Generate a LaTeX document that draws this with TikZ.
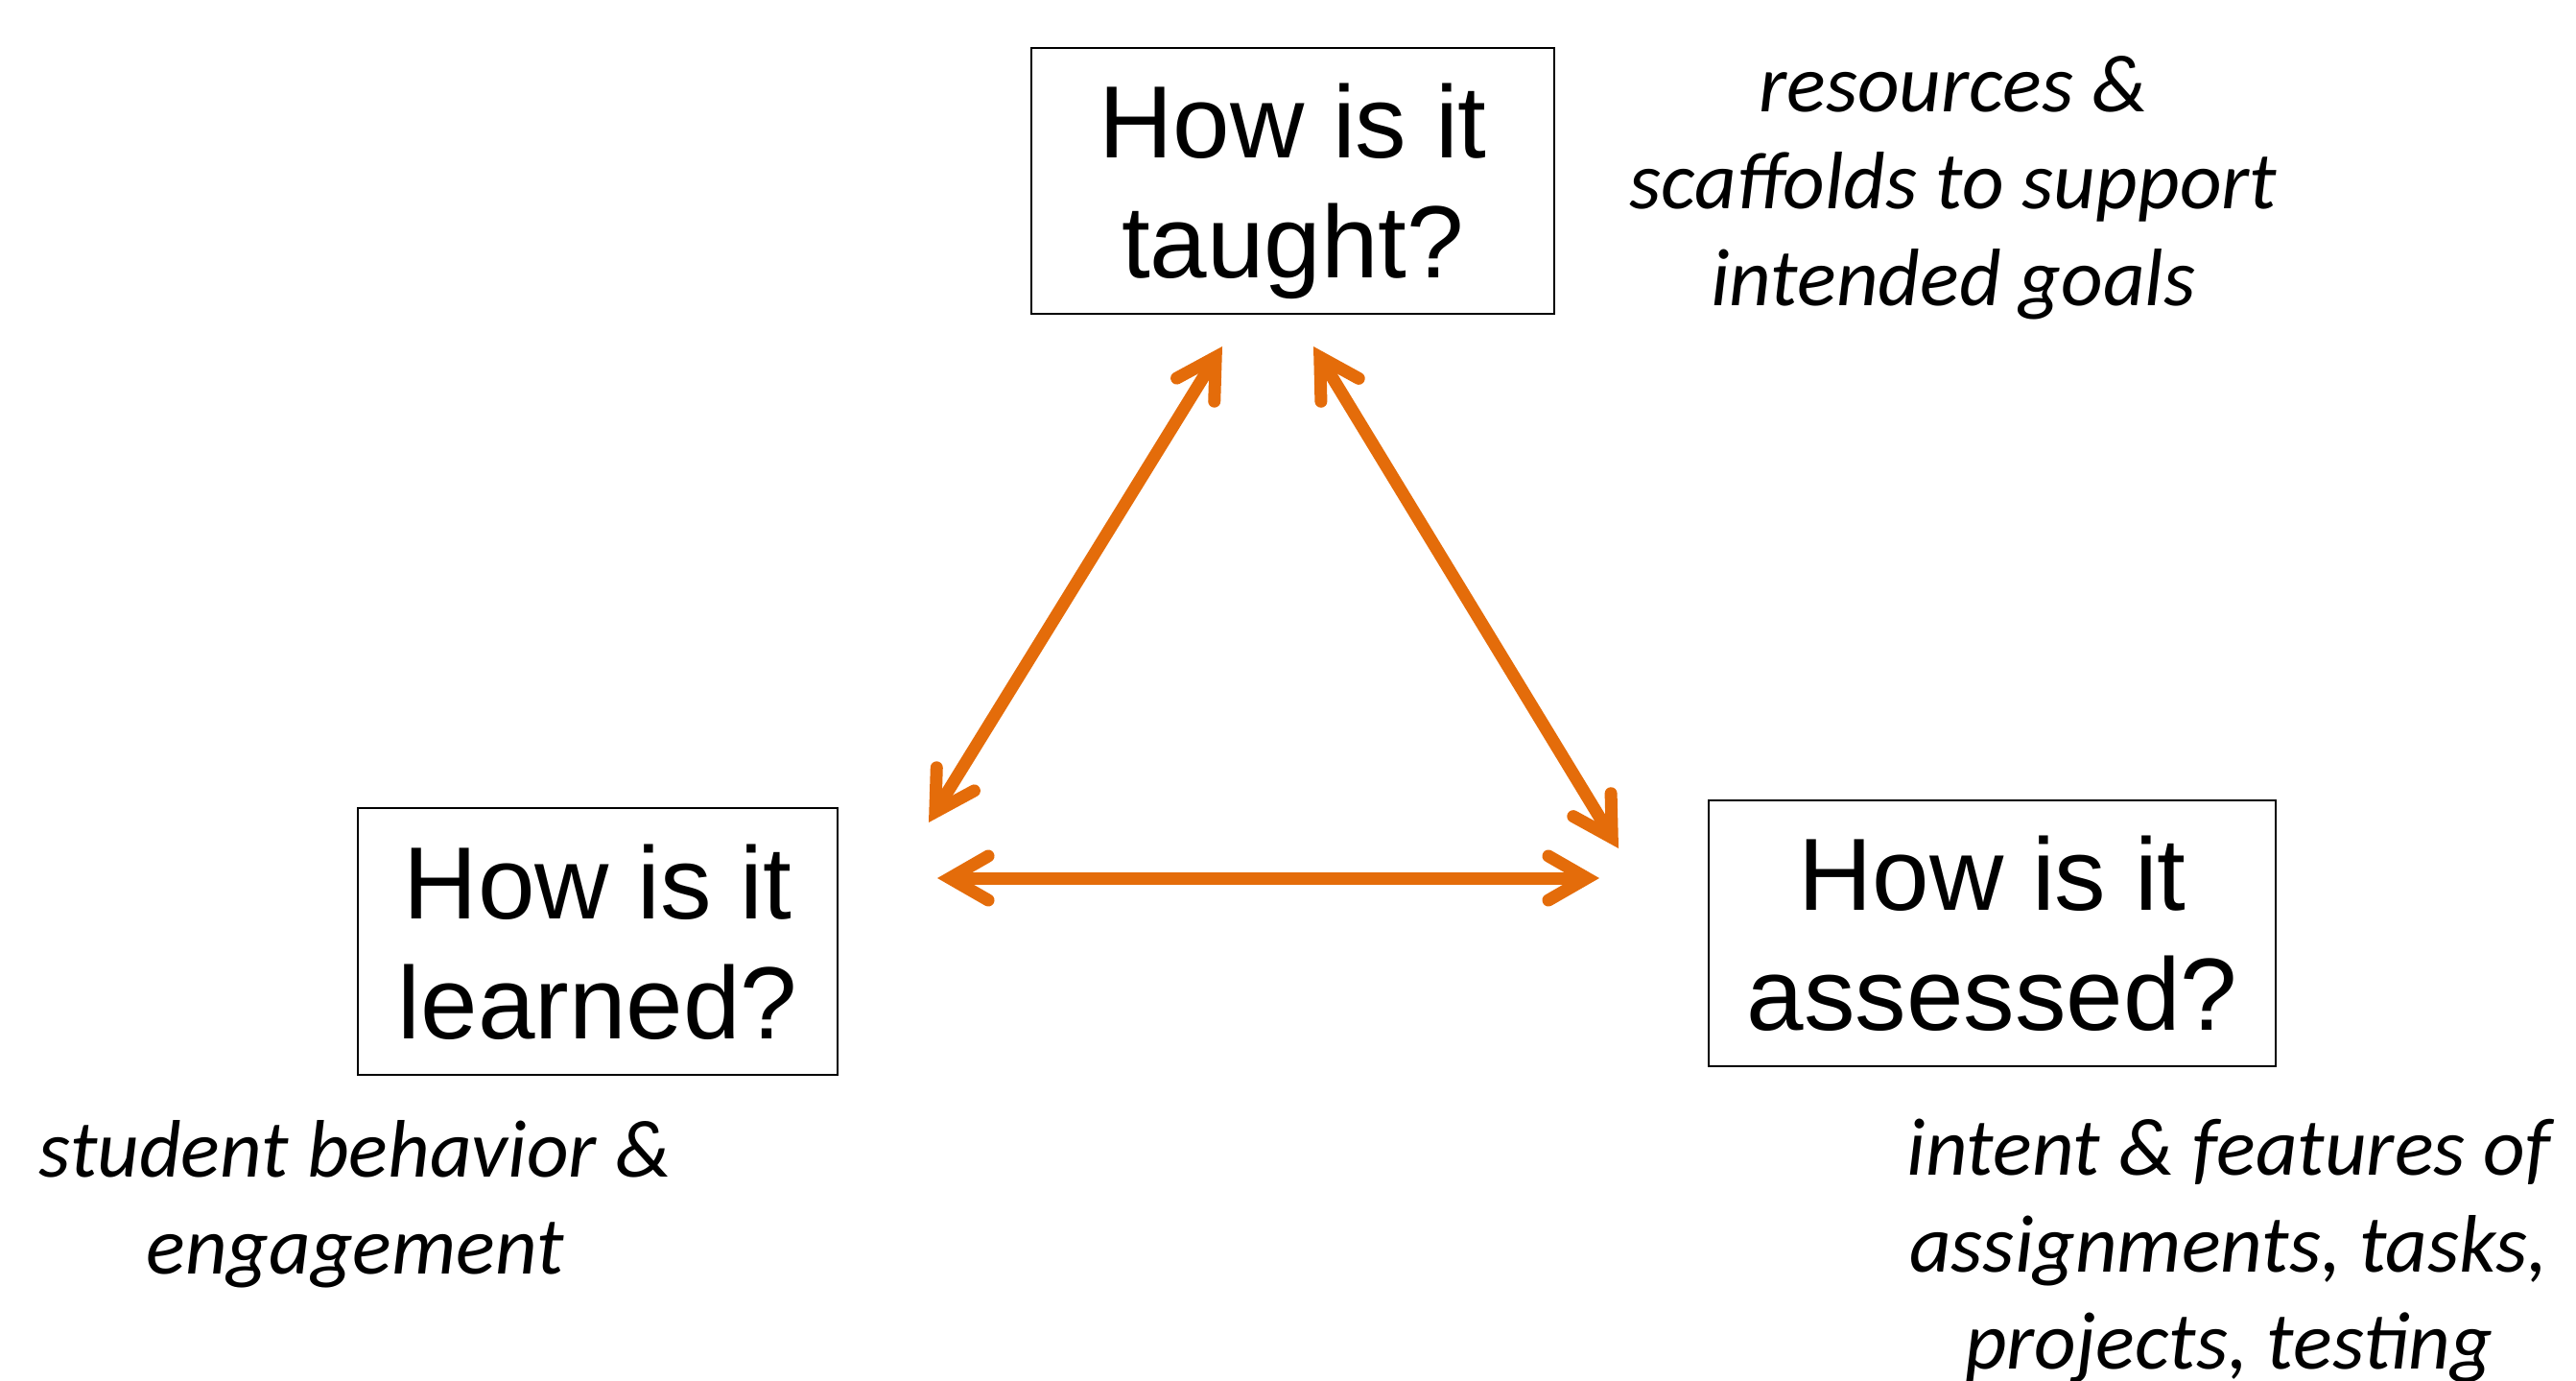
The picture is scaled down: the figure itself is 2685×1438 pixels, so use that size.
\documentclass[tikz,border=0pt]{standalone}
\usepackage{fontspec}
\setmainfont{Liberation Sans}
\newfontfamily\calfont{Carlito}
\usetikzlibrary{arrows.meta}
\definecolor{arroworange}{HTML}{E46C0A}
\begin{document}
\begin{tikzpicture}[x=1pt,y=-1pt,
  box/.style={draw=black, line width=2.5pt, inner sep=0pt, align=center,
    font=\fontsize{107}{125}\selectfont, text depth=0pt},
  note/.style={align=center, anchor=base, font=\calfont\itshape\fontsize{85}{101}\selectfont},
  barb/.tip={Straight Barb[length=40pt,width=46pt,line cap=round]},
  link/.style={draw=arroworange, line width=13pt, barb-barb}
]
\useasboundingbox (0,0) rectangle (2685,1438);

\node[box, minimum width=545pt, minimum height=277pt] (taught) at (1347.5,188.5) {How is it\\taught?};
\node[box, minimum width=500pt, minimum height=278pt] (learned) at (623,981) {How is it\\learned?};
\node[box, minimum width=591pt, minimum height=277pt] (assessed) at (2076.5,972.5) {How is it\\assessed?};

\node[note] (resources) at (2036,318) {resources \&\\scaffolds to support\\intended goals};
\node[note] (student) at (370,1327) {student behavior \&\\engagement};
\node[note] (intent) at (2323,1426) {intent \& features of\\assignments, tasks,\\projects, testing};

\coordinate (taughtL) at (1274,361);
\coordinate (learnedT) at (968,857);
\coordinate (taughtR) at (1369,361);
\coordinate (assessedT) at (1687,884);
\coordinate (learnedR) at (977,915);
\coordinate (assessedL) at (1667,915);

\draw[link] (learnedT) -- (taughtL);
\draw[link] (taughtR) -- (assessedT);
\draw[link] (learnedR) -- (assessedL);
\end{tikzpicture}
\end{document}
